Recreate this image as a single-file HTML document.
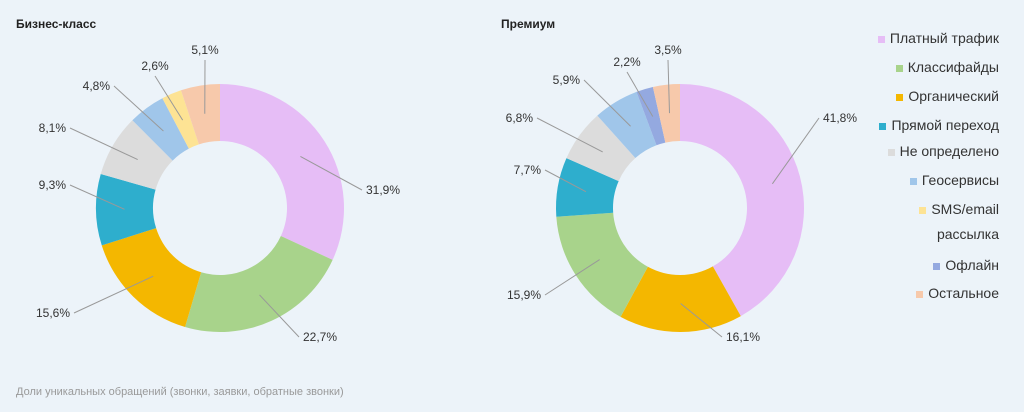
<!DOCTYPE html><html><head><meta charset="utf-8"><style>
body{margin:0;width:1024px;height:412px;background:#ecf3f9;font-family:"Liberation Sans",sans-serif;overflow:hidden;position:relative}
.t{position:absolute;font-weight:bold;font-size:12px;color:#222}
.lg{position:absolute;right:25px;font-size:14px;color:#333;text-align:right}
.lg span{display:inline-block;width:7px;height:7px;margin-right:5px;vertical-align:middle}
.ft{position:absolute;left:16px;top:386px;font-size:11px;color:#999}
</style></head><body>
<div class="t" style="left:16px;top:17px">Бизнес-класс</div>
<div class="t" style="left:501px;top:17px">Премиум</div>
<svg id="s" width="1024" height="412" style="position:absolute;left:0;top:0"></svg>
<div class="lg" style="top:30px"><span style="background:#e6bdf6"></span>Платный трафик</div>
<div class="lg" style="top:59px"><span style="background:#a8d38b"></span>Классифайды</div>
<div class="lg" style="top:88px"><span style="background:#f4b700"></span>Органический</div>
<div class="lg" style="top:117px"><span style="background:#2eaecd"></span>Прямой переход</div>
<div class="lg" style="top:143px"><span style="background:#dcdcdc"></span>Не определено</div>
<div class="lg" style="top:172px"><span style="background:#a0c6ea"></span>Геосервисы</div>
<div class="lg" style="top:201px"><span style="background:#fde394"></span>SMS/email</div>
<div class="lg" style="top:226px">рассылка</div>
<div class="lg" style="top:257px"><span style="background:#94a9e0"></span>Офлайн</div>
<div class="lg" style="top:285px"><span style="background:#f7c9ab"></span>Остальное</div>
<div class="ft">Доли уникальных обращений (звонки, заявки, обратные звонки)</div>
<script>
var C={p:"#e6bdf6",g:"#a8d38b",o:"#f4b700",b:"#2eaecd",n:"#dcdcdc",geo:"#a0c6ea",sms:"#fde394",off:"#94a9e0",r:"#f7c9ab"};
var s=document.getElementById('s'),h='';
function pie(cx,cy,data){var R=124,r=67,a=0,tot=0;data.forEach(d=>tot+=d[1]);
data.forEach(d=>{var a0=a,a1=a+d[1]/tot*2*Math.PI;a=a1;
function P(rad,t){return [cx+rad*Math.sin(t),cy-rad*Math.cos(t)]}
var p1=P(R,a0),p2=P(R,a1),p3=P(r,a1),p4=P(r,a0),lf=(a1-a0)>Math.PI?1:0;
h+='<path d="M'+p1+'A'+R+','+R+' 0 '+lf+' 1 '+p2+'L'+p3+'A'+r+','+r+' 0 '+lf+' 0 '+p4+'Z" fill="'+C[d[0]]+'"/>';
var m=P((R+r)/2,(a0+a1)/2),lx=d[3],ly=d[4],anc=lx<cx?'end':'start';
var ex=anc=='end'?lx+4:lx-4;
if(Math.abs(m[0]-lx)<30&&ly<cy){ex=lx;h+='<line x1="'+lx+'" y1="'+(ly+6)+'" x2="'+m[0]+'" y2="'+m[1]+'" stroke="#999"/>';h+='<text x="'+lx+'" y="'+ly+'" text-anchor="middle" font-size="12" fill="#333">'+d[2]+'</text>';}
else{h+='<line x1="'+ex+'" y1="'+(ly-4)+'" x2="'+m[0]+'" y2="'+m[1]+'" stroke="#999"/>';h+='<text x="'+lx+'" y="'+ly+'" text-anchor="'+anc+'" font-size="12" fill="#333">'+d[2]+'</text>';}
});}
pie(220,208,[["p",31.9,"31,9%",366,194],["g",22.7,"22,7%",303,341],["o",15.6,"15,6%",70,317],["b",9.3,"9,3%",66,189],["n",8.1,"8,1%",66,132],["geo",4.8,"4,8%",110,90],["sms",2.6,"2,6%",155,70],["r",5.1,"5,1%",205,54]]);
pie(680,208,[["p",41.8,"41,8%",823,122],["o",16.1,"16,1%",726,341],["g",15.9,"15,9%",541,299],["b",7.7,"7,7%",541,174],["n",6.8,"6,8%",533,122],["geo",5.9,"5,9%",580,84],["off",2.2,"2,2%",627,66],["r",3.5,"3,5%",668,54]]);
s.innerHTML=h;
</script>
</body></html>
